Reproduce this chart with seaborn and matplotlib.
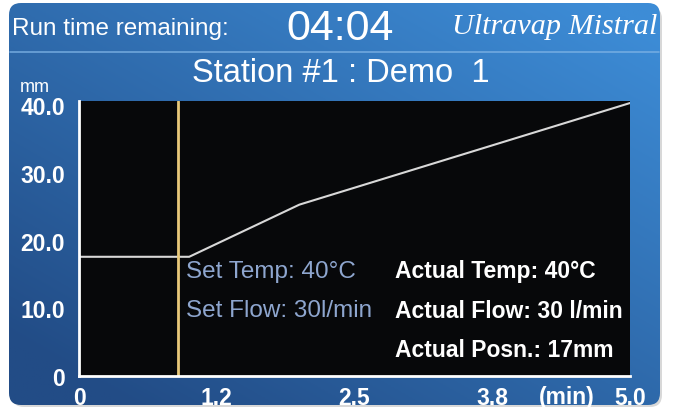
import numpy as np
import pandas as pd
import seaborn as sns
import matplotlib.pyplot as plt
from matplotlib.patches import FancyBboxPatch

# Chart data
time_min = [0.0, 1.0, 2.0, 5.0]
position_mm = [17.6, 17.6, 25.3, 40.3]
marker_time = 0.9
x_ticks = [0.0, 1.25, 2.5, 3.75, 5.0]
x_tick_labels = ['0', '1.2', '2.5', '3.8', '5.0']
y_ticks = [0, 10, 20, 30, 40]
y_tick_labels = ['0', '10.0', '20.0', '30.0', '40.0']
set_lines = ['Set Temp: 40°C', 'Set Flow: 30l/min']
actual_lines = ['Actual Temp: 40°C', 'Actual Flow: 30 l/min', 'Actual Posn.: 17mm']

df = pd.DataFrame({'time': time_min, 'position': position_mm})

sns.set_style('dark')
plt.rcParams['font.family'] = ['Liberation Sans', 'DejaVu Sans']

fig = plt.figure(figsize=(6.73, 4.10), dpi=100)
fig.patch.set_facecolor('white')

# Background panel (pixel coordinates)
bg = fig.add_axes([0, 0, 1, 1])
bg.set_xlim(0, 673)
bg.set_ylim(410, 0)
bg.axis('off')

# shadow
shadow = FancyBboxPatch((12, 8), 650, 400, boxstyle='round,pad=0,rounding_size=12',
                        facecolor='#d8d8d8', edgecolor='none', zorder=0)
bg.add_patch(shadow)

panel = FancyBboxPatch((9, 4), 651, 402, boxstyle='round,pad=0,rounding_size=12',
                       facecolor='none', edgecolor='none', zorder=1)
bg.add_patch(panel)
yy, xx = np.mgrid[0:1:200j, 0:1:300j]
t = np.clip(0.55 * xx + 0.6 * (1 - yy) - 0.1, 0, 1)
dark = np.array([0x22, 0x4c, 0x86]) / 255
light = np.array([0x3d, 0x8c, 0xd6]) / 255
grad = dark[None, None, :] * (1 - t[..., None]) + light[None, None, :] * t[..., None]
im = bg.imshow(grad, extent=(9, 660, 406, 4), aspect='auto', zorder=1)
im.set_clip_path(panel)

# header separator
bg.plot([10, 659], [53, 53], color='#7fb4e6', lw=1.2, alpha=0.8, zorder=2)

bg.text(12, 29, 'Run time remaining:', color='white', fontsize=17.5, va='center', ha='left', zorder=3)
bg.text(340, 29, '04:04', color='white', fontsize=31, va='center', ha='center', zorder=3)
bg.text(657, 27, 'Ultravap Mistral', color='white', fontsize=21.7, style='italic',
        family=['Liberation Serif', 'DejaVu Serif'], va='center', ha='right', zorder=3)
bg.text(341, 74, 'Station #1 : Demo  1', color='white', fontsize=23.5, va='center', ha='center', zorder=3)
bg.text(35, 88, 'mm', color='white', fontsize=13, va='center', ha='center', zorder=3)

# Main plot
ax = fig.add_axes([79 / 673, 1 - 377 / 410, 551 / 673, 275 / 410])
ax.set_facecolor('#07080a')
sns.lineplot(data=df, x='time', y='position', ax=ax, color='#d8d8d8', lw=1.5)
ax.axvline(marker_time, color='#e8c87a', lw=2)

ax.set_xlim(0, 5.0)
ax.set_ylim(0, 40.6)
ax.set_xticks(x_ticks)
ax.set_xticklabels(x_tick_labels)
ax.set_yticks(y_ticks)
ax.set_yticklabels(y_tick_labels)
ax.set_xlabel('')
ax.set_ylabel('')
ax.grid(False)
for side in ['left', 'bottom']:
    ax.spines[side].set_visible(True)
    ax.spines[side].set_color('white')
    ax.spines[side].set_linewidth(2)
for side in ['top', 'right']:
    ax.spines[side].set_visible(False)
ax.tick_params(axis='y', colors='white', labelcolor='white', direction='out',
               length=8, width=2, labelsize=16.5, pad=2)
ax.tick_params(axis='x', colors='white', labelcolor='white', direction='out',
               length=6, width=2, labelsize=16.5, pad=1)
for lbl in ax.get_xticklabels() + ax.get_yticklabels():
    lbl.set_fontweight('bold')

ax.text(4.17, -3.0, '(min)', color='white', fontsize=16.5,
        fontweight='bold', va='center', ha='left', clip_on=False)

for i, s in enumerate(set_lines):
    ax.text(0.195, 0.382 - i * 0.143, s, transform=ax.transAxes, color='#8ea6cf',
            fontsize=17.5, va='center', ha='left')
for i, s in enumerate(actual_lines):
    ax.text(0.573, 0.382 - i * 0.143, s, transform=ax.transAxes, color='white',
            fontsize=16.5, fontweight='bold', va='center', ha='left')

fig.savefig('out.png', dpi=100, facecolor=fig.get_facecolor())
